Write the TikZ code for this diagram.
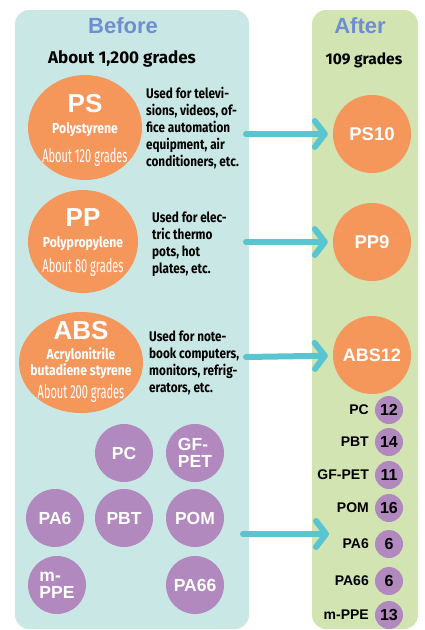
\documentclass[tikz,border=0pt]{standalone}
\usepackage{fontspec}
\setmainfont{Liberation Sans}
\newfontfamily\hum{Fira Sans}[FakeStretch=0.84]
\newfontfamily\humwide{Fira Sans}
\newfontfamily\humnarrow{Fira Sans}[FakeStretch=0.58]
\usetikzlibrary{arrows.meta,shapes.geometric}
\definecolor{beforebg}{HTML}{C9E8E5}
\definecolor{afterbg}{HTML}{D1E4B2}
\definecolor{resinorange}{HTML}{F5965A}
\definecolor{resinpurple}{HTML}{B189BF}
\definecolor{flowcol}{HTML}{58C5D0}
\definecolor{titleblue}{HTML}{6E8ED0}
\begin{document}
\begin{tikzpicture}[x=1pt,y=-1pt,
  panel/.style={rounded corners=14pt},
  title/.style={text=titleblue, font=\fontsize{22}{22}\selectfont\bfseries, inner sep=0},
  total/.style={font=\humwide\bfseries\fontsize{17}{17}\selectfont, inner sep=0},
  resin/.style={ellipse, fill=resinorange, inner sep=0},
  bigname/.style={text=white, font=\fontsize{26}{26}\selectfont\bfseries, inner sep=0, text depth=0pt},
  fullname/.style={text=white, font=\hum\bfseries\fontsize{14.5}{14.5}\selectfont, inner sep=0, text depth=0pt},
  gradecount/.style={text=white, font=\humnarrow\fontsize{19}{19}\selectfont, inner sep=0, text depth=0pt},
  desc/.style={anchor=west, align=left, font=\hum\bfseries\fontsize{14}{17}\selectfont, inner sep=0},
  merged/.style={circle, fill=resinorange, minimum size=78pt, inner sep=0, text=white, font=\fontsize{18.5}{18.5}\selectfont\bfseries},
  other/.style={circle, fill=resinpurple, minimum size=58pt, inner sep=0, text=white, align=left, font=\fontsize{17.5}{17}\selectfont\bfseries},
  count/.style={circle, fill=resinpurple, minimum size=28pt, inner sep=0, font=\fontsize{16}{16}\selectfont\bfseries},
  listname/.style={anchor=east, inner sep=0, font=\fontsize{14}{14}\selectfont\bfseries},
  flow/.style={draw=flowcol, line width=6pt, line cap=round, shorten >=5pt,
    -{Straight Barb[length=10pt,width=26pt,round]}}
]
\useasboundingbox (0,0) rectangle (425,630);

% background panels
\fill[beforebg, panel] (15,10) rectangle (249,629);
\fill[afterbg, panel] (312,10) rectangle (418,629);

% headings
\node[title] (before) at (123,26) {Before};
\node[title] (after) at (360,26) {After};
\node[total] (alltotal) at (122,59) {About 1,200 grades};
\node[total, font=\humwide\bfseries\fontsize{15.5}{15.5}\selectfont] (newtotal) at (364,60) {109 grades};

% polystyrene
\node[resin, minimum width=114pt, minimum height=105pt] (ps) at (85,127.5) {};
\node[bigname] (psname) at (85,103) {PS};
\node[fullname] (psfull) at (85,128) {Polystyrene};
\node[gradecount] (psgrades) at (85,155) {About 120 grades};
\node[desc] (psuse) at (146,128) {Used for televi-\\sions, videos, of-\\fice automation\\equipment, air\\conditioners, etc.};

% polypropylene
\node[resin, minimum width=110pt, minimum height=103pt] (pp) at (83,241.5) {};
\node[bigname] (ppname) at (83,218) {PP};
\node[fullname] (ppfull) at (83,242) {Polypropylene};
\node[gradecount] (ppgrades) at (83,265) {About 80 grades};
\node[desc] (ppuse) at (152,244.5) {Used for elec-\\tric thermo\\pots, hot\\plates, etc.};

% acrylonitrile butadiene styrene
\node[resin, minimum width=124pt, minimum height=101pt] (abs) at (81,362.5) {};
\node[bigname] (absname) at (81,330) {ABS};
\node[fullname] (absfull1) at (81,354) {Acrylonitrile};
\node[fullname] (absfull2) at (81,370) {butadiene styrene};
\node[gradecount] (absgrades) at (81,391) {About 200 grades};
\node[desc] (absuse) at (149,362.5) {Used for note-\\book computers,\\monitors, refrig-\\erators, etc.};

% other engineering plastics
\node[other] (pc) at (124,453) {PC};
\node[other] (gfpet) at (195,453) {GF-\\PET};
\node[other] (pa6) at (55,518) {PA6};
\node[other] (pbt) at (124,518) {PBT};
\node[other] (pom) at (195,518) {POM};
\node[other] (mppe) at (57,585) {m-\\PPE};
\node[other] (pa66) at (195,585) {PA66};

% consolidated grades
\node[merged] (ps10) at (372,134) {PS10};
\node[merged] (pp9) at (372,242) {PP9};
\node[merged, font=\fontsize{18}{18}\selectfont\bfseries] (abs12) at (372,355) {ABS12};

\node[count] (npc) at (389,410) {12};
\node[listname] (lpc) at (369,410) {PC};
\node[count] (npbt) at (389,442) {14};
\node[listname] (lpbt) at (369,442) {PBT};
\node[count] (ngfpet) at (389,475) {11};
\node[listname] (lgfpet) at (369,475) {GF-PET};
\node[count] (npom) at (389,508) {16};
\node[listname] (lpom) at (369,508) {POM};
\node[count] (npa6) at (389,544) {6};
\node[listname] (lpa6) at (369,544) {PA6};
\node[count] (npa66) at (389,581) {6};
\node[listname] (lpa66) at (369,581) {PA66};
\node[count] (nmppe) at (389,615) {13};
\node[listname] (lmppe) at (369,615) {m-PPE};

% flow arrows
\coordinate (psfrom) at (246,134);
\coordinate (ppfrom) at (246,242);
\coordinate (absfrom) at (246,357);
\coordinate (otherfrom) at (243,534);
\coordinate (otherto) at (334,534);
\draw[flow] (psfrom) -- (ps10);
\draw[flow] (ppfrom) -- (pp9);
\draw[flow] (absfrom) -- (abs12);
\draw[flow] (otherfrom) -- (otherto);
\end{tikzpicture}
\end{document}
